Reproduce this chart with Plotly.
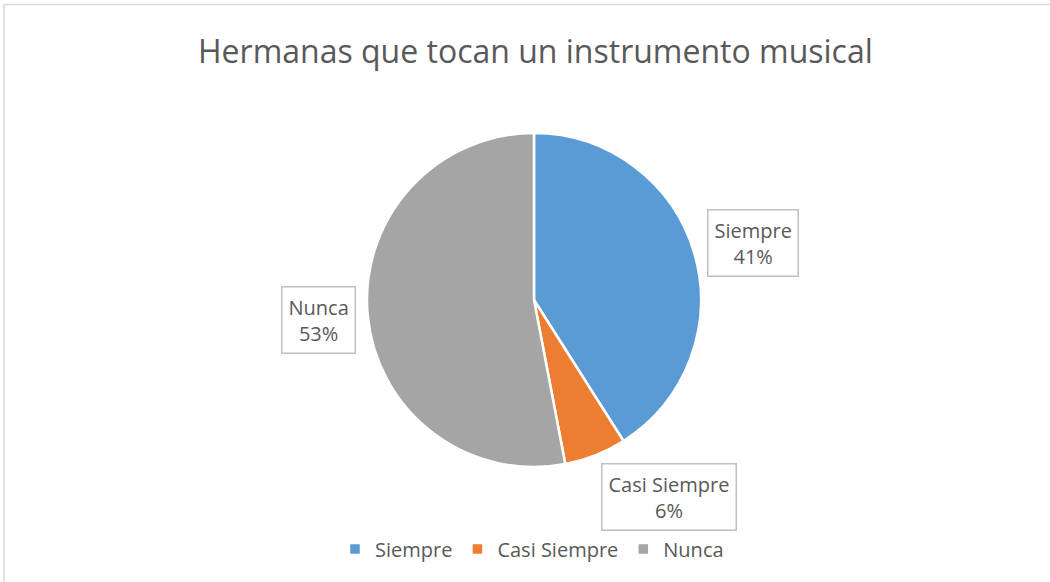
import plotly.graph_objects as go

categories = ["Siempre", "Casi Siempre", "Nunca"]
values = [41, 6, 53]
colors = ["#5b9bd5", "#ed7d31", "#a5a5a5"]
title_text = "Hermanas que tocan un instrumento musical"

W, H = 1050, 582
FONT = "Open Sans"
TXT = "#595959"

cx, cy, r = 534, 300, 167
fig = go.Figure()
fig.add_trace(go.Pie(
    labels=categories, values=values, sort=False, direction="clockwise", rotation=0,
    marker=dict(colors=colors, line=dict(color="white", width=2.5)),
    textinfo="none", hoverinfo="label+percent",
    domain=dict(x=[(cx - r) / W, (cx + r) / W], y=[(H - cy - r) / H, (H - cy + r) / H]),
))

total = sum(values)
label_pos = [(753, 243), (669, 497), (318, 320)]
for cat, v, (lx, ly) in zip(categories, values, label_pos):
    fig.add_annotation(
        x=lx / W, y=1 - ly / H, xref="paper", yref="paper",
        xanchor="center", yanchor="middle",
        text=f"{cat}<br>{round(100 * v / total)}%",
        showarrow=False, font=dict(family=FONT, size=20, color=TXT),
        bordercolor="#bfbfbf", borderwidth=1.5, borderpad=6, bgcolor="white",
        align="center",
    )

fig.add_annotation(
    x=535 / W, y=1 - 50 / H, xref="paper", yref="paper", text=title_text,
    xanchor="center", yanchor="middle",
    showarrow=False, font=dict(family=FONT, size=32, color=TXT),
)

fig.add_shape(type="rect", xref="paper", yref="paper",
              x0=4 / W, x1=1.02, y0=-0.02, y1=1 - 4.5 / H,
              line=dict(color="#d9d9d9", width=1.5), fillcolor="rgba(0,0,0,0)", layer="below")

fig.update_layout(
    width=W, height=H, margin=dict(l=0, r=0, t=0, b=0),
    paper_bgcolor="white", plot_bgcolor="white",
    showlegend=True,
    legend=dict(orientation="h", x=532 / W, xanchor="center", y=1 - 549 / H, yanchor="middle",
                font=dict(family=FONT, size=20, color=TXT), itemwidth=30,
                traceorder="normal"),
)

fig.write_html("out.html", config={"displayModeBar": False},
               post_script="document.body.style.margin='0';document.body.style.overflow='hidden';")
